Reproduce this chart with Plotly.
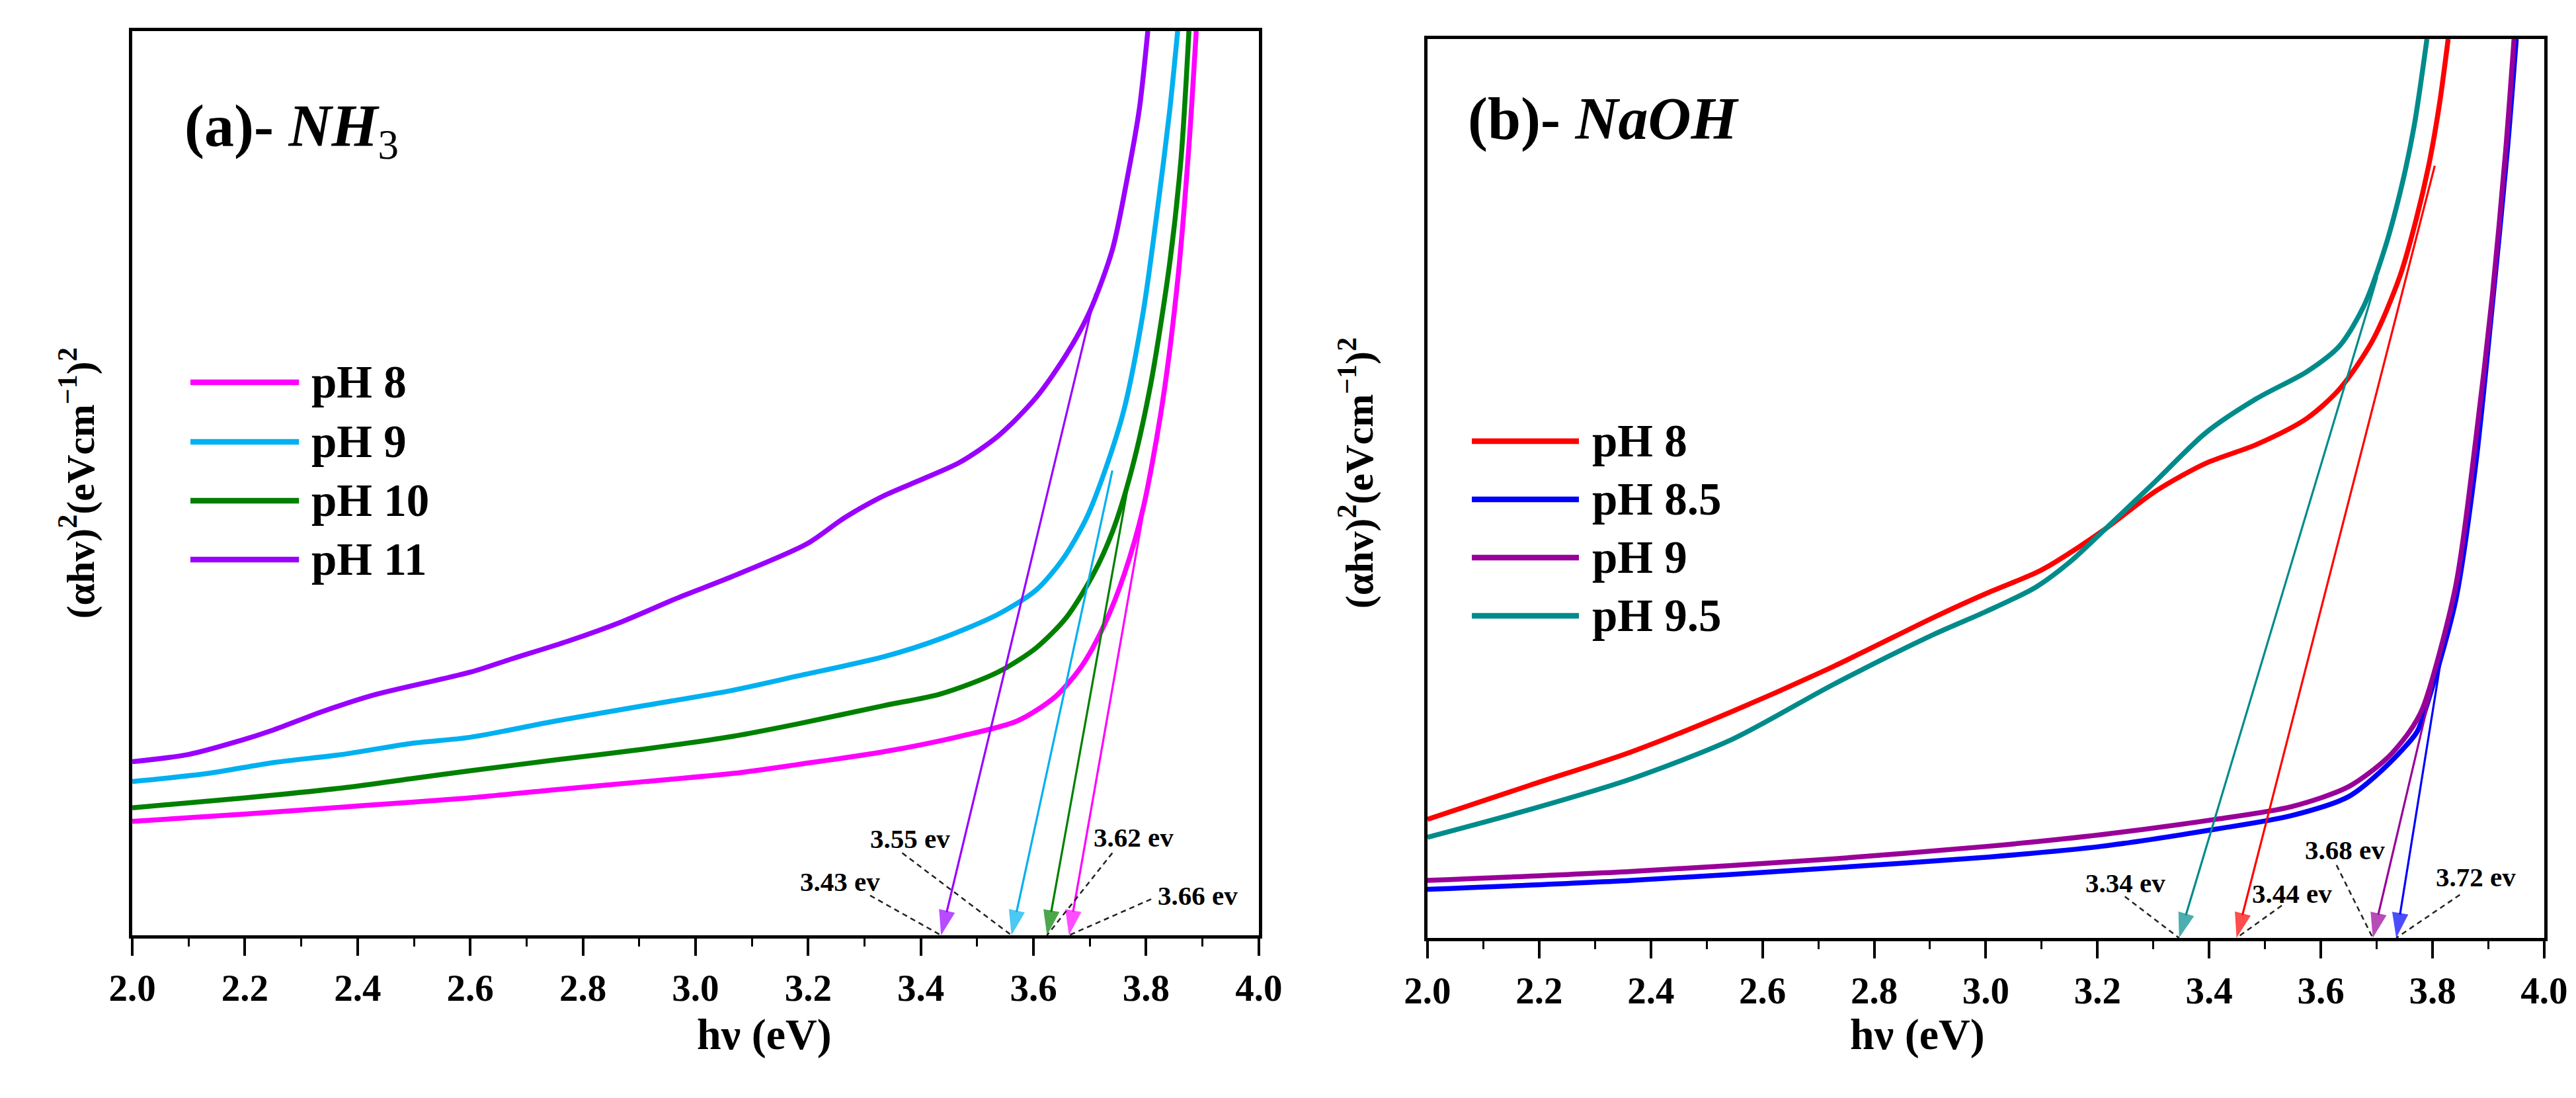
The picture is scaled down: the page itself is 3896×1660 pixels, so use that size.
import plotly.graph_objects as go

# ---------------- panel (a) NH3 ----------------
names_a = ['pH 8', 'pH 9', 'pH 10', 'pH 11']
colors_a = ['#FF00FF', '#00B0F0', '#008000', '#9900FF']

x_a_ph8 = [2.0, 2.2, 2.4, 2.6, 2.75, 2.91, 3.066, 3.183, 3.334, 3.469, 3.571, 3.639, 3.686, 3.727, 3.761,
           3.795, 3.829, 3.856, 3.876, 3.889]
y_a_ph8 = [12.6, 13.4, 14.3, 15.2, 16.1, 17.0, 17.9, 18.9, 20.3, 22.0, 23.7, 26.4, 29.8, 34.5, 39.9,
           47.3, 58.9, 72.4, 87.3, 100]

x_a_ph9 = [2.0, 2.134, 2.25, 2.373, 2.493, 2.6, 2.752, 2.909, 3.066, 3.183, 3.334, 3.435, 3.537, 3.605,
           3.652, 3.693, 3.727, 3.761, 3.795, 3.822, 3.842, 3.856]
y_a_ph9 = [17.0, 17.9, 19.1, 20.0, 21.2, 21.9, 23.7, 25.4, 27.1, 28.7, 30.8, 32.8, 35.5, 38.2,
           41.6, 46.0, 51.4, 58.2, 69.0, 81.2, 91.3, 100]

x_a_ph10 = [2.0, 2.2, 2.373, 2.493, 2.6, 2.752, 2.909, 3.066, 3.183, 3.334, 3.435, 3.537, 3.605, 3.659,
            3.706, 3.74, 3.774, 3.808, 3.842, 3.862, 3.876]
y_a_ph10 = [14.1, 15.2, 16.3, 17.3, 18.2, 19.4, 20.6, 22.0, 23.4, 25.4, 26.7, 29.1, 31.8, 35.2,
            39.9, 44.6, 51.4, 60.9, 74.4, 85.9, 100]

x_a_ph11 = [2.0, 2.1, 2.19, 2.25, 2.34, 2.43, 2.6, 2.675, 2.772, 2.87, 2.968, 3.066, 3.198, 3.265,
            3.334, 3.401, 3.469, 3.537, 3.605, 3.659, 3.70, 3.74, 3.767, 3.788, 3.803]
y_a_ph11 = [19.2, 20.0, 21.5, 22.7, 24.8, 26.6, 29.1, 30.6, 32.5, 34.7, 37.3, 39.7, 43.3, 46.2,
            48.6, 50.4, 52.3, 55.2, 59.5, 64.3, 69.0, 75.8, 83.9, 91.4, 100]

xs_a = [x_a_ph8, x_a_ph9, x_a_ph10, x_a_ph11]
ys_a = [y_a_ph8, y_a_ph9, y_a_ph10, y_a_ph11]

# band gap read-outs: where each tangent meets the axis, and the tangent point on the curve
gap_a = ['3.66 ev', '3.55 ev', '3.62 ev', '3.43 ev']
tip_a = [3.663, 3.561, 3.624, 3.436]
tan_a_x = [3.835, 3.74, 3.767, 3.71]
tan_a_y = [60.9, 51.4, 49.4, 71.0]

# ---------------- panel (b) NaOH ----------------
names_b = ['pH 8', 'pH 8.5', 'pH 9', 'pH 9.5']
colors_b = ['#FF0000', '#0000FF', '#990099', '#008B8B']

x_b_ph8 = [2.0, 2.184, 2.365, 2.546, 2.727, 2.908, 3.0, 3.089, 3.124, 3.214, 3.304, 3.394, 3.485, 3.575,
           3.634, 3.693, 3.741, 3.771, 3.795, 3.813, 3.828]
y_b_ph8 = [13.2, 17.0, 20.7, 25.2, 30.2, 35.7, 38.3, 40.6, 41.8, 45.5, 49.7, 52.8, 54.9, 57.8,
           61.1, 66.5, 73.5, 80.0, 86.5, 93.0, 100]

x_b_ph85 = [2.0, 2.365, 2.727, 3.005, 3.208, 3.412, 3.547, 3.649, 3.717, 3.771, 3.782, 3.841, 3.877,
            3.907, 3.934, 3.95]
y_b_ph85 = [5.4, 6.4, 7.8, 9.0, 10.2, 12.1, 13.6, 15.7, 19.1, 22.8, 24.4, 37.4, 52.5,
            70.3, 87.6, 100]

x_b_ph9 = [2.0, 2.365, 2.727, 3.005, 3.208, 3.412, 3.547, 3.649, 3.717, 3.757, 3.782, 3.841, 3.877,
           3.907, 3.931, 3.946]
y_b_ph9 = [6.4, 7.4, 8.8, 10.2, 11.5, 13.2, 14.6, 16.8, 19.9, 22.8, 25.5, 39.0, 55.2,
           71.4, 87.6, 100]

x_b_ph95 = [2.0, 2.184, 2.365, 2.546, 2.727, 2.908, 3.0, 3.089, 3.15, 3.214, 3.304, 3.394, 3.485, 3.575,
            3.634, 3.677, 3.712, 3.743, 3.767, 3.790]
y_b_ph95 = [11.2, 14.3, 17.7, 22.1, 28.2, 33.8, 36.3, 39.0, 41.8, 45.5, 50.8, 56.2, 60.0, 63.0,
            65.9, 70.3, 76.2, 83.2, 90.3, 100]

xs_b = [x_b_ph8, x_b_ph85, x_b_ph9, x_b_ph95]
ys_b = [y_b_ph8, y_b_ph85, y_b_ph9, y_b_ph95]

gap_b = ['3.44 ev', '3.72 ev', '3.68 ev', '3.34 ev']
tip_b = [3.449, 3.735, 3.693, 3.346]
tan_b_x = [3.804, 3.815, 3.80, 3.701]
tan_b_y = [85.9, 30.9, 28.2, 73.5]

# where the little "x.xx ev" notes sit (text centre, start of dashed leader)
note_a = [(3.892, 4.4, 3.809, 4.0), (3.381, 10.7, 3.367, 9.1), (3.778, 10.8, 3.74, 9.1), (3.256, 5.9, 3.31, 4.4)]
note_b = [(3.548, 4.9, 3.530, 3.6), (3.877, 6.8, 3.849, 4.8), (3.643, 9.8, 3.628, 8.1), (3.250, 6.1, 3.249, 4.6)]

FONT = 'Liberation Serif'

fig = go.Figure()
annots = []
shapes = []


def add_panel(xs, ys, names, colors, gaps, tips, tx, ty, notes, xa, ya):
    for x, y, c in zip(xs, ys, colors):
        fig.add_trace(go.Scatter(x=x, y=y, mode='lines', xaxis=xa, yaxis=ya, showlegend=False,
                                 line=dict(color=c, width=7.5, shape='spline', smoothing=0.8)))
    # tangent arrows
    for c, tip, x0, y0 in zip(colors, tips, tx, ty):
        fig.add_trace(go.Scatter(x=[x0, tip], y=[y0, 0], mode='lines+markers', xaxis=xa, yaxis=ya,
                                 showlegend=False, cliponaxis=False,
                                 line=dict(color=c, width=3.2),
                                 marker=dict(symbol='arrow', size=[0, 40], color=c, angleref='previous',
                                             line=dict(width=0))))
    # dashed leaders + notes
    for g, tip, (lx, ly, sx, sy) in zip(gaps, tips, notes):
        fig.add_trace(go.Scatter(x=[sx, tip], y=[sy, 0], mode='lines', xaxis=xa, yaxis=ya,
                                 showlegend=False, cliponaxis=False,
                                 line=dict(color='#222222', width=2.5, dash='8px,6px')))
        annots.append(dict(x=lx, y=ly, xref=xa, yref=ya, text='<b>' + g + '</b>', showarrow=False,
                           font=dict(family=FONT, size=41, color='black')))


add_panel(xs_a, ys_a, names_a, colors_a, gap_a, tip_a, tan_a_x, tan_a_y, note_a, 'x', 'y')
add_panel(xs_b, ys_b, names_b, colors_b, gap_b, tip_b, tan_b_x, tan_b_y, note_b, 'x2', 'y2')

# hand drawn legends (long line samples like the original)
leg_a = dict(x0=0.0516, x1=0.148, xt=0.158, ys=[0.6116, 0.5457, 0.4806, 0.4155])
leg_b = dict(x0=0.0397, x1=0.1356, xt=0.1462, ys=[0.5526, 0.4879, 0.4231, 0.3584])
for leg, names, colors, xr, yr in [(leg_a, names_a, colors_a, 'x domain', 'y domain'),
                                   (leg_b, names_b, colors_b, 'x2 domain', 'y2 domain')]:
    for n, c, yy in zip(names, colors, leg['ys']):
        shapes.append(dict(type='line', xref=xr, yref=yr, x0=leg['x0'], x1=leg['x1'], y0=yy, y1=yy,
                           line=dict(color=c, width=8.5)))
        annots.append(dict(x=leg['xt'], y=yy, xref=xr, yref=yr, text='<b>' + n + '</b>', showarrow=False,
                           xanchor='left', yanchor='middle', font=dict(family=FONT, size=69, color='black')))

# panel titles
annots.append(dict(x=0.045, y=0.89, xref='x domain', yref='y domain', xanchor='left', yanchor='middle',
                   text='<b>(a)- <i>NH</i></b><sub>3</sub>', showarrow=False,
                   font=dict(family=FONT, size=90, color='black')))
annots.append(dict(x=0.035, y=0.911, xref='x2 domain', yref='y2 domain', xanchor='left', yanchor='middle',
                   text='<b>(b)- <i>NaOH</i></b>', showarrow=False,
                   font=dict(family=FONT, size=90, color='black')))

# axis titles
for xc in [0.268, 0.7689]:
    annots.append(dict(x=xc, y=0.039, xref='paper', yref='paper', text='<b>hν (eV)</b>', showarrow=False,
                       font=dict(family=FONT, size=66, color='black')))
for xc, yc in [(0.0177, 0.565), (0.5244, 0.574)]:
    annots.append(dict(x=xc, y=yc, xref='paper', yref='paper', textangle=-90, showarrow=False,
                       text='<b>(αhv)<sup>2</sup>(eVcm<sup>−1</sup>)<sup>2</sup></b>',
                       font=dict(family=FONT, size=60, color='black')))

xaxis_style = dict(range=[2.0, 4.0], dtick=0.2, tick0=2.0, tickformat='.1f', showgrid=False, zeroline=False,
                   showline=True, mirror=True, linecolor='black', linewidth=4.5,
                   ticks='outside', ticklen=26, tickwidth=3.5, tickcolor='black',
                   tickfont=dict(family=FONT, size=57, color='black', weight='bold'),
                   minor=dict(dtick=0.1, ticks='outside', ticklen=12, tickwidth=3, tickcolor='black'),
                   automargin=False)
yaxis_style = dict(range=[0, 100], showgrid=False, zeroline=False, showticklabels=False, ticks='',
                   showline=True, mirror=True, linecolor='black', linewidth=4.5, automargin=False)

fig.update_layout(
    width=3896, height=1660,
    margin=dict(l=0, r=0, t=0, b=0),
    paper_bgcolor='white', plot_bgcolor='white',
    xaxis=dict(domain=[0.0493, 0.4866], anchor='y', **xaxis_style),
    yaxis=dict(domain=[0.153, 0.9765], anchor='x', **yaxis_style),
    xaxis2=dict(domain=[0.5521, 0.9856], anchor='y2', **xaxis_style),
    yaxis2=dict(domain=[0.1506, 0.9693], anchor='x2', **yaxis_style),
    annotations=annots,
    shapes=shapes,
)

fig.write_html('out.html')
